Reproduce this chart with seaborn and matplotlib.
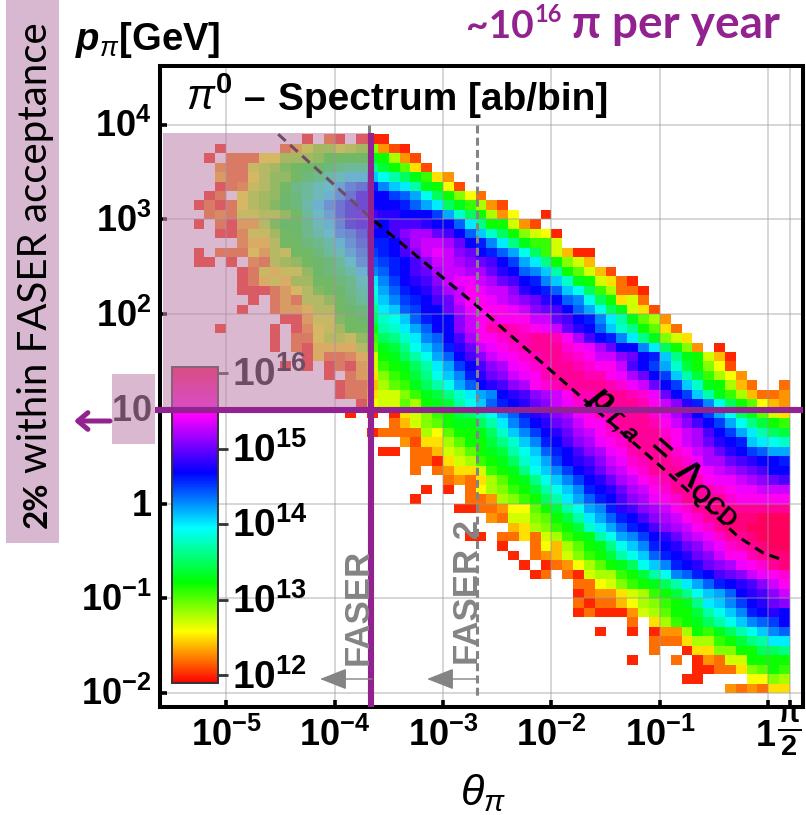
import numpy as np
import pandas as pd
import seaborn as sns
import matplotlib
matplotlib.use("Agg")
import matplotlib.pyplot as plt
from matplotlib.colors import LinearSegmentedColormap, hsv_to_rgb
from matplotlib.patches import Rectangle
from matplotlib.transforms import ScaledTranslation

# Each p bin: (first theta bin, levels); level = 10*log10(ab/bin), 0 = empty cell
p_bin_00 = (49, [123,122,123,122,125,125])
p_bin_01 = (45, [120,120,0,0,0,0,126,126,129,128])
p_bin_02 = (46, [120,120,122,122,125,129,130,132,131])
p_bin_03 = (40, [120,0,0,0,122,0,120,123,122,127,127,132,132,132,132])
p_bin_04 = (42, [122,0,0,120,125,125,129,129,132,132,135,135,136])
p_bin_05 = (42, [122,122,122,125,128,128,131,132,134,136,137,140,140])
p_bin_06 = (37, [120,0,0,120,0,120,123,123,128,132,131,133,135,137,139,141,143,144])
p_bin_07 = (40, [122,0,125,128,131,132,133,135,137,139,141,143,144,145,147])
p_bin_08 = (35, [120,122,120,120,120,123,127,128,130,132,132,134,137,139,141,143,146,147,148,147])
p_bin_09 = (35, [122,120,122,122,124,126,128,129,131,132,133,136,140,141,143,145,147,148,150,151])
p_bin_10 = (35, [120,122,123,123,125,127,128,131,132,134,136,139,141,142,144,147,148,149,151,153])
p_bin_11 = (35, [122,122,126,127,129,131,132,133,135,137,140,142,144,146,147,148,149,151,153,155])
p_bin_12 = (31, [120,122,0,122,120,127,128,128,131,132,134,137,139,143,144,146,147,149,150,151,153,154,155,156])
p_bin_13 = (30, [120,0,120,122,123,126,128,130,132,133,135,139,141,143,146,147,148,150,151,152,154,155,156,158,159])
p_bin_14 = (29, [120,0,122,123,124,127,129,131,132,134,137,139,141,144,146,147,148,150,151,153,155,155,157,158,159,159])
p_bin_15 = (28, [120,0,0,122,126,124,128,130,132,133,136,139,141,143,146,147,148,150,151,153,154,156,157,158,159,160,160])
p_bin_16 = (25, [120,120,0,122,122,125,122,127,128,131,132,133,137,139,142,143,145,147,148,150,152,153,154,156,158,158,159,160,160,160])
p_bin_17 = (29, [124,125,128,129,131,132,134,138,140,142,144,146,147,149,151,152,153,155,156,158,159,159,160,160,160,160])
p_bin_18 = (27, [123,122,127,127,129,130,132,134,137,140,142,144,146,147,149,151,152,153,155,156,158,158,159,159,159,160,160,160])
p_bin_19 = (24, [120,120,122,122,123,126,126,130,132,134,137,139,142,143,146,148,149,151,152,153,155,156,158,158,159,158,158,158,158,158,158])
p_bin_20 = (20, [120,0,0,0,0,122,122,123,128,129,131,132,135,137,140,142,144,146,147,149,151,152,154,155,156,158,158,158,158,156,155,155,155,155,155])
p_bin_21 = (21, [120,0,120,0,122,126,128,129,131,132,134,137,139,141,143,146,147,148,150,152,153,155,156,158,158,158,157,156,155,154,154,153,153,153])
p_bin_22 = (23, [122,123,122,125,128,130,132,133,136,139,141,143,145,147,148,150,152,153,155,156,157,158,158,157,155,154,154,153,152,151,150,149])
p_bin_23 = (20, [122,0,122,123,125,125,127,131,132,133,136,139,141,143,145,147,148,150,152,153,155,156,158,158,158,157,155,154,153,152,151,150,149,147,147])
p_bin_24 = (20, [122,122,120,125,127,128,131,132,133,135,138,140,142,145,147,148,149,151,153,154,156,157,158,158,157,156,154,152,152,150,149,148,147,147,146])
p_bin_25 = (17, [120,120,0,122,122,124,127,128,130,132,133,134,137,139,141,144,146,147,149,151,152,154,155,157,158,158,158,156,155,153,152,150,148,147,145,144,142,142])
p_bin_26 = (19, [123,121,125,125,128,130,132,132,134,136,138,141,143,146,147,149,151,152,154,155,156,158,158,158,157,155,153,152,150,148,147,146,141,140,139,138])
p_bin_27 = (16, [120,122,122,122,122,128,126,130,132,132,133,135,138,141,143,145,147,148,150,152,153,155,156,157,158,158,158,156,155,153,152,149,147,145,142,140,137,135,134])
p_bin_28 = (18, [122,124,127,129,130,132,133,133,135,137,140,143,145,147,148,150,151,153,155,155,157,158,158,158,157,155,153,151,149,147,145,142,139,136,134,132,131])
p_bin_29 = (14, [120,0,120,0,120,125,127,129,131,132,134,135,137,139,142,144,146,148,149,151,152,154,155,157,157,158,158,158,156,154,152,150,147,145,142,139,135,133,130,127,125])
p_bin_30 = (15, [120,126,127,127,130,128,132,133,134,137,139,141,144,146,147,148,150,151,153,154,156,156,158,158,158,158,157,155,153,151,148,146,143,139,135,132,130,126,124,123])
p_bin_31 = (13, [120,122,122,125,127,127,129,131,133,134,136,138,140,142,143,147,148,149,151,152,153,155,157,157,158,158,158,157,156,154,150,147,145,141,137,133,131,128,124,122,122,123])
p_bin_32 = (13, [120,122,122,124,128,130,131,133,135,137,139,142,144,147,148,149,151,152,155,156,157,158,158,158,158,157,156,154,153,150,147,145,141,138,133,132,128,124,122,0,0,122])
p_bin_33 = (12, [120,0,122,124,125,129,131,132,134,136,139,141,143,146,148,150,151,153,154,155,157,158,158,158,157,157,155,154,152,150,147,145,141,137,134,131,128,126,123])
p_bin_34 = (8, [120,0,120,0,120,122,120,124,127,131,132,133,135,137,140,142,145,147,149,151,152,154,155,156,157,158,158,157,156,155,155,153,149,147,145,142,138,134,132,129,126,121])
p_bin_35 = (10, [120,125,122,122,123,125,127,132,133,135,137,139,142,144,147,149,151,153,154,155,156,157,158,158,157,156,155,153,153,151,150,147,146,141,136,133,132,127,124,120])
p_bin_36 = (7, [120,0,122,120,125,125,125,125,128,130,133,134,136,139,141,143,146,148,150,153,154,155,156,157,158,158,158,156,155,154,152,150,147,147,143,140,135,132,129,123,0,120])
p_bin_37 = (7, [120,0,122,122,126,128,128,127,130,131,135,136,138,140,143,144,147,149,152,155,155,156,157,157,158,158,157,155,152,149,147,146,143,140,136,133,129,127,125])
p_bin_38 = (2, [120,0,0,0,0,120,0,120,123,126,127,129,132,132,133,137,138,140,142,144,147,147,151,153,155,157,158,157,156,155,154,153,150,148,147,144,141,138,136,132,130,125,122])
p_bin_39 = (8, [120,120,124,127,127,131,132,133,135,138,139,141,144,146,147,147,151,153,155,156,155,155,155,153,153,150,149,147,146,143,140,137,133,130,128,123])
p_bin_40 = (4, [120,0,0,122,124,124,125,128,128,132,133,134,136,140,141,144,145,147,147,150,152,154,155,155,155,154,153,151,150,149,147,144,142,139,135,133,127,125,121])
p_bin_41 = (5, [120,0,122,124,122,128,128,130,132,134,136,138,141,143,145,146,147,149,150,153,155,155,154,153,152,151,150,148,147,144,143,139,135,132,125,127,122])
p_bin_42 = (4, [120,120,120,122,124,126,128,131,132,133,135,137,139,142,144,146,147,148,150,152,153,155,154,153,153,151,148,147,146,144,141,139,135,131,128,122,122,120])
p_bin_43 = (4, [120,122,125,127,125,129,129,132,132,134,135,138,140,143,145,147,148,149,151,153,154,154,153,152,150,149,147,146,143,141,138,133,132,127,125,122,120])
p_bin_44 = (4, [120,122,127,125,127,127,130,133,134,135,137,140,143,144,146,147,149,150,152,153,153,152,152,150,148,147,144,143,141,137,132,130,127,124,121])
p_bin_45 = (0, [120,120,0,120,0,123,122,128,129,130,132,133,134,136,139,142,144,145,146,147,149,151,153,153,152,151,150,149,147,145,142,140,136,132,129,127,124])
p_bin_46 = (0, [120,0,122,122,122,126,124,128,127,132,132,134,136,138,141,143,145,146,147,149,151,153,154,153,151,150,147,146,144,142,139,135,131,127,124,120,120])
p_bin_47 = (4, [123,125,125,128,132,132,134,135,137,140,142,144,146,146,147,150,152,153,153,152,150,147,146,143,140,136,133,131,131,127])
p_bin_48 = (2, [120,120,123,127,127,129,132,133,135,137,139,142,143,145,147,147,149,151,152,152,150,149,147,144,141,138,135,132,129,127,126,120])
p_bin_49 = (0, [120,0,122,120,124,124,128,131,133,133,135,138,140,143,146,147,148,147,149,149,149,148,147,147,144,140,136,132,132,127,123,121])
p_bin_50 = (1, [122,123,122,127,127,128,128,130,132,136,139,141,144,146,148,149,148,148,147,147,147,145,142,138,135,132,128,123,126,0,0,120])
p_bin_51 = (0, [120,122,120,122,126,128,129,131,133,134,137,140,142,144,146,147,147,147,147,146,144,142,140,135,133,131,128,123,121])
p_bin_52 = (1, [120,122,0,126,128,129,130,133,134,136,138,140,142,144,147,147,147,145,144,142,139,135,132,129,126,122])
p_bin_53 = (2, [120,122,123,127,128,130,132,135,136,138,139,141,143,144,146,143,141,140,137,133,132,126,121])
p_bin_54 = (2, [124,122,122,126,128,130,130,132,134,135,137,138,140,140,141,139,137,135,133,131,125,123])
p_bin_55 = (2, [123,122,122,127,128,129,131,132,133,133,134,135,136,136,136,134,132,130,125,121])
p_bin_56 = (1, [120,0,122,122,122,126,126,129,129,129,130,132,132,132,132,133,132,128,123,121])
p_bin_57 = (2, [120,0,0,0,0,0,122,124,127,129,129,127,128,129,129,123,121,120])
p_bin_58 = (10, [120,0,122,120,0,120,120,120])

p_bins = [p_bin_00,p_bin_01,p_bin_02,p_bin_03,p_bin_04,p_bin_05,p_bin_06,p_bin_07,p_bin_08,p_bin_09,
          p_bin_10,p_bin_11,p_bin_12,p_bin_13,p_bin_14,p_bin_15,p_bin_16,p_bin_17,p_bin_18,p_bin_19,
          p_bin_20,p_bin_21,p_bin_22,p_bin_23,p_bin_24,p_bin_25,p_bin_26,p_bin_27,p_bin_28,p_bin_29,
          p_bin_30,p_bin_31,p_bin_32,p_bin_33,p_bin_34,p_bin_35,p_bin_36,p_bin_37,p_bin_38,p_bin_39,
          p_bin_40,p_bin_41,p_bin_42,p_bin_43,p_bin_44,p_bin_45,p_bin_46,p_bin_47,p_bin_48,p_bin_49,
          p_bin_50,p_bin_51,p_bin_52,p_bin_53,p_bin_54,p_bin_55,p_bin_56,p_bin_57,p_bin_58]

pt_line_log_theta = [-4.52,-3.65,-2.7,-1.83,-1.0,-0.61,-0.277,-0.05,0.144]
pt_line_log_p = [3.9,3.0,2.1,1.23,0.4,0.0,-0.35,-0.52,-0.6]

x_tick_log = [-5,-4,-3,-2,-1,0,np.log10(np.pi/2)]
x_tick_labels = [r'$\mathbf{10^{-5}}$',r'$\mathbf{10^{-4}}$',r'$\mathbf{10^{-3}}$',r'$\mathbf{10^{-2}}$',
                 r'$\mathbf{10^{-1}}$',r'$\mathbf{1}$',r'$\mathbf{\frac{\pi}{2}}$']
y_tick_log = [-2,-1,0,1,2,3,4]
y_tick_labels = [r'$\mathbf{10^{-2}}$',r'$\mathbf{10^{-1}}$',r'$\mathbf{1}$',r'$\mathbf{10}$',
                 r'$\mathbf{10^{2}}$',r'$\mathbf{10^{3}}$',r'$\mathbf{10^{4}}$']
cbar_ticks = [12,13,14,15,16]
cbar_labels = [r'$\mathbf{10^{12}}$',r'$\mathbf{10^{13}}$',r'$\mathbf{10^{14}}$',r'$\mathbf{10^{15}}$',r'$\mathbf{10^{16}}$']
faser_log_theta = -3.66
faser2_log_theta = -2.685
cut_log_p = 0.985

sns.set_theme(style="white")
plt.rcParams.update({
    'font.family': ['Liberation Sans', 'DejaVu Sans'],
    'text.color': 'black',
    'axes.labelcolor': 'black',
    'xtick.color': 'black',
    'ytick.color': 'black',
    'mathtext.fontset': 'custom',
    'mathtext.rm': 'Liberation Sans',
    'mathtext.it': 'Liberation Sans:italic',
    'mathtext.bf': 'Liberation Sans:bold',
    'mathtext.bfit': 'Liberation Sans:italic:bold',
})

W, H = 806, 815
PURPLE = '#92228F'
GRAY = '#848484'
SHADE = (190/255, 133/255, 174/255)
SHADE_A = 0.58

fig = plt.figure(figsize=(W/100, H/100), dpi=100, facecolor='white')
ax = fig.add_axes([160/W, 1-707/H, 643/W, 641/H])

grid = np.full((59, 55), np.nan)
for r, (start, vals) in enumerate(p_bins):
    for k, v in enumerate(vals):
        if v:
            grid[r, start+k] = v/10
df = pd.DataFrame(grid)

lo, hi = 11.9, 16.08
nodes = [(11.9,0),(12.58,60),(13.23,120),(13.95,180),(14.68,240),(15.45,300),(16.08,343)]
cmap = LinearSegmentedColormap.from_list('hue', [((v-lo)/(hi-lo), hsv_to_rgb((h/360,1,1))) for v,h in nodes], N=512)

cx = lambda lt: (np.asarray(lt)+5.3)*10
ry = lambda lp: (np.asarray(lp)+2)*10
XL = (-3.1, 56.2)
YL = (-1.48, 66.2)

cax = ax.inset_axes([(172-160)/643, (707-683)/641, 46/643, 316/641])
cax.set_zorder(5)
sns.heatmap(df, ax=ax, cmap=cmap, vmin=lo, vmax=hi, xticklabels=False, yticklabels=False,
            cbar=True, cbar_ax=cax, cbar_kws={'ticks': cbar_ticks})
ax.set_xlim(*XL)
ax.set_ylim(*YL)
ax.set_xlabel(''); ax.set_ylabel('')
ax.patch.set_facecolor('white')

for s in ax.spines.values():
    s.set_visible(True); s.set_linewidth(2.9); s.set_color('black')

ax.set_xticks(cx(x_tick_log)); ax.set_xticklabels(x_tick_labels)
ax.set_yticks(ry(y_tick_log)); ax.set_yticklabels(y_tick_labels)
ax.tick_params(axis='both', direction='in', length=5, width=2.6, color='black', labelsize=26,
               labelcolor='black', bottom=True, left=True, top=False, right=False, rotation=0)
ax.tick_params(axis='x', pad=28)
ax.tick_params(axis='y', pad=6)
ax.set_axisbelow(False)
for tick in ax.xaxis.get_major_ticks():
    tick.label1.set_verticalalignment('baseline')
frac = ax.xaxis.get_major_ticks()[-1].label1
frac.set_fontsize(30)
frac.set_transform(frac.get_transform() + ScaledTranslation(0, 0.03, fig.dpi_scale_trans))
unit = ax.xaxis.get_major_ticks()[-2].label1
unit.set_transform(unit.get_transform() + ScaledTranslation(-0.03, 0, fig.dpi_scale_trans))
for tick in ax.yaxis.get_major_ticks():
    lab = tick.label1
    lab.set_verticalalignment('baseline')
    lab.set_transform(lab.get_transform() + ScaledTranslation(0, -0.125, fig.dpi_scale_trans))
for lt in x_tick_log:
    ax.axvline(cx(lt), color='#999999', lw=1.1, alpha=0.5, zorder=1.5)
for lp in y_tick_log:
    ax.axhline(ry(lp), color='#999999', lw=1.1, alpha=0.5, zorder=1.5)

# colour bar
cb = ax.collections[0].colorbar
cb.ax.set_yticklabels(cbar_labels)
cb.ax.tick_params(direction='out', length=7, width=2, color='#333333', labelsize=28, pad=3, labelcolor='black', right=True)
for tick in cb.ax.yaxis.get_major_ticks():
    lab = tick.label2
    lab.set_verticalalignment('baseline')
    lab.set_transform(lab.get_transform() + ScaledTranslation(0, -0.13, fig.dpi_scale_trans))
cb.outline.set_visible(True); cb.outline.set_edgecolor('#333333'); cb.outline.set_linewidth(1.4)

# reference lines
ax.plot(cx(pt_line_log_theta), ry(pt_line_log_p), color='black', lw=2.2, dashes=(3.3, 2), zorder=3)
for lt, top_lp, bot_lp in [(faser_log_theta-0.02, 4.0, -2.1), (faser2_log_theta, 4.0, -2.03)]:
    ax.plot([cx(lt)]*2, ry([top_lp, bot_lp]), color=GRAY, lw=2.2, dashes=(2.6, 1.4), zorder=3.5)

# acceptance shade
ax.add_patch(Rectangle((cx(-5.58), ry(cut_log_p)), cx(faser_log_theta)-cx(-5.58), ry(3.91)-ry(cut_log_p),
                       facecolor=SHADE, alpha=SHADE_A, edgecolor='none', zorder=6))
def fig_rect(x0, y0, x1, y1, **kw):
    ax.add_patch(Rectangle((x0/W, 1-y1/H), (x1-x0)/W, (y1-y0)/H, transform=fig.transFigure,
                           clip_on=False, edgecolor='none', **kw))
fig_rect(112, 374, 155, 444, facecolor=SHADE, alpha=SHADE_A, zorder=6)
fig_rect(6, 0, 59, 543, facecolor='#D8B8D0', zorder=6)

# acceptance boundary lines
ax.plot(cx([-5.66, 0.323]), ry([cut_log_p]*2), color=PURPLE, lw=4.4, clip_on=False, zorder=7, solid_capstyle='butt')
ax.plot(cx([faser_log_theta]*2), ry([3.91, -2.148]), color=PURPLE, lw=4.4, clip_on=False, zorder=7, solid_capstyle='butt')

def T(x, y, s, **kw):
    kw.setdefault('zorder', 8)
    kw.setdefault('color', 'black')
    return ax.text(x/W, 1-y/H, s, transform=fig.transFigure, clip_on=False, **kw)

T(186, 110, r'$\pi^{\mathbf{0}}$', fontsize=30, va='baseline', ha='left')
T(244, 110, '\u2013', fontsize=28, fontweight='bold', va='baseline', ha='left')
T(278, 110, 'Spectrum [ab/bin]', fontsize=28, fontweight='bold', va='baseline', ha='left')
T(75, 50, r'$\mathbfit{p}_{\pi}$[GeV]', fontsize=27.5, fontweight='bold', va='baseline', ha='left')
T(483, 805, r'$\theta_{\pi}$', fontsize=31, va='baseline', ha='center')

T(664, 457, r'$\mathbfit{p}_{\mathbfit{T,a}}$ $\mathbf{=}$ $\mathbf{\Lambda}_{\mathbf{QCD}}$', fontsize=25, rotation=-41,
  rotation_mode='anchor', ha='center', va='center', zorder=5)

T(375, 665, 'FASER', fontsize=25, color=GRAY, fontweight='bold', rotation=90, ha='right', va='bottom')
T(485, 665, 'FASER 2', fontsize=25, color=GRAY, fontweight='bold', rotation=90, ha='right', va='bottom')
for x0, x1 in [(372, 320), (477, 427)]:
    ax.annotate('', xy=(x1/W, 1-679/H), xytext=(x0/W, 1-679/H), xycoords='figure fraction', textcoords='figure fraction',
                arrowprops=dict(arrowstyle='-|>,head_length=1.4,head_width=0.55', color=GRAY, lw=1.0, shrinkA=0, shrinkB=0), zorder=8)
ax.annotate('', xy=(74/W, 1-421/H), xytext=(110/W, 1-421/H), xycoords='figure fraction', textcoords='figure fraction',
            arrowprops=dict(arrowstyle='->,head_length=0.6,head_width=0.5', color=PURPLE, lw=3.6, shrinkA=0, shrinkB=0), zorder=8)

STRIP_FONT = ['Lato', 'DejaVu Sans']
T(47, 528, '2%', fontsize=24, fontfamily=STRIP_FONT, fontweight='bold', rotation=90, rotation_mode='anchor', ha='left', va='baseline')
T(47, 473, 'within FASER acceptance', fontsize=29, fontfamily=STRIP_FONT, rotation=90, rotation_mode='anchor', ha='left', va='baseline')

TOP_FONT = ['Lato', 'Open Sans', 'DejaVu Sans']
T(466, 38, '~10', fontsize=28, color=PURPLE, fontfamily=TOP_FONT, fontweight='bold', va='baseline', ha='left')
T(534, 22, '16', fontsize=17, color=PURPLE, fontfamily=TOP_FONT, fontweight='bold', va='baseline', ha='left')
T(572, 38, 'π per year', fontsize=33, color=PURPLE, fontfamily=TOP_FONT, fontweight='bold', va='baseline', ha='left')

fig.savefig('out.png', dpi=100)
